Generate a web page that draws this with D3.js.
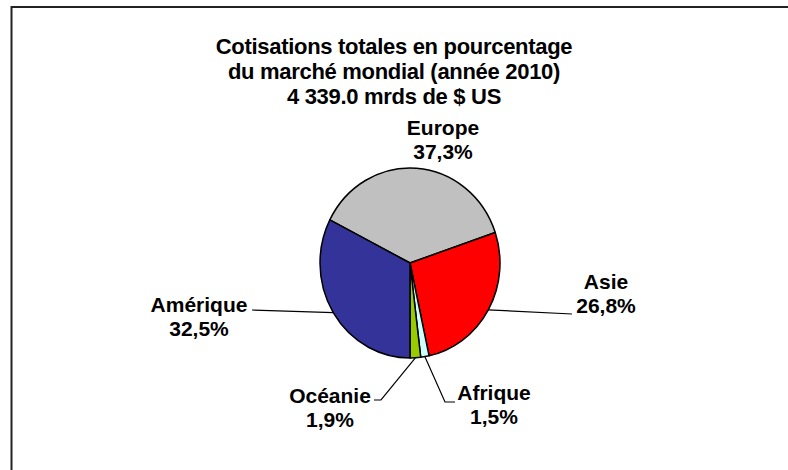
<!DOCTYPE html>
<html>
<head>
<meta charset="utf-8">
<script src="https://cdn.jsdelivr.net/npm/d3@7"></script>
<style>
  body { margin: 0; background: #fff; }
  svg { display: block; font-family: "Liberation Sans", Arial, sans-serif; }
</style>
</head>
<body>
<svg width="788" height="470"></svg>
<script>
// data
const regions = ['Europe', 'Asie', 'Afrique', 'Océanie', 'Amérique'];
const shares = [37.3, 26.8, 1.5, 1.9, 32.5];
const colors = ['#c0c0c0', '#ff0000', '#ccffff', '#99cc00', '#333399'];
const titleLines = [
  'Cotisations totales en pourcentage',
  'du marché mondial (année 2010)',
  '4 339.0 mrds de $ US'
];

// label placement (text centre x, first baseline y, leader end)
const labelPos = {
  'Europe':   { x: 443, y: 135, leader: null },
  'Asie':     { x: 606, y: 289, leader: [[572, 314]] },
  'Afrique':  { x: 494, y: 400, leader: [[445, 402], [455, 402]] },
  'Océanie':  { x: 330, y: 403, leader: [[381, 400], [374, 400]] },
  'Amérique': { x: 199, y: 312, leader: [[252, 310]] }
};

const svg = d3.select('svg'),
  cx = 410, cy = 263, r = 90, sy = 95 / 90;

// chart frame (cut off at right and bottom)
svg.append('rect')
  .attr('x', 11.5).attr('y', 7)
  .attr('width', 900).attr('height', 600)
  .attr('fill', 'none')
  .attr('stroke', '#222')
  .attr('stroke-width', 2);

svg.append('g')
  .selectAll('text')
  .data(titleLines)
  .enter().append('text')
  .attr('x', 394)
  .attr('y', (d, i) => 54 + i * 25)
  .attr('text-anchor', 'middle')
  .style('font-size', '22px')
  .style('font-weight', 'bold')
  .style('letter-spacing', '-0.3px')
  .text(d => d);

const start = Math.PI - (shares[0] + shares[1] + shares[2] + shares[3]) / 100 * 2 * Math.PI;

const pie = d3.pie()
  .sort(null)
  .value(d => d)
  .startAngle(start)
  .endAngle(start + 2 * Math.PI);

const arcs = pie(shares);
const arc = d3.arc().innerRadius(0).outerRadius(r);

const g = svg.append('g')
  .attr('transform', 'translate(' + cx + ',' + cy + ') scale(1,' + sy + ')');

g.selectAll('path')
  .data(arcs)
  .enter().append('path')
  .attr('d', arc)
  .attr('fill', (d, i) => colors[i])
  .attr('stroke', '#000')
  .attr('stroke-width', 1.5)
  .attr('vector-effect', 'non-scaling-stroke')
  .attr('stroke-linejoin', 'round');

const edgePoint = d => {
  const a = (d.startAngle + d.endAngle) / 2;
  return [cx + r * Math.sin(a), cy - r * sy * Math.cos(a)];
};

const fmt = v => v.toFixed(1).replace('.', ',') + '%';

arcs.forEach((d, i) => {
  const name = regions[i];
  const pos = labelPos[name];
  if (pos.leader) {
    svg.append('path')
      .attr('d', d3.line()([edgePoint(d)].concat(pos.leader)))
      .attr('fill', 'none')
      .attr('stroke', '#000')
      .attr('stroke-width', 1.2);
  }
  const t = svg.append('text')
    .attr('text-anchor', 'middle')
    .style('font-size', '21px')
    .style('font-weight', 'bold');
  t.append('tspan').attr('x', pos.x).attr('y', pos.y).text(name);
  t.append('tspan').attr('x', pos.x).attr('y', pos.y + 24).text(fmt(shares[i]));
});
</script>
</body>
</html>
